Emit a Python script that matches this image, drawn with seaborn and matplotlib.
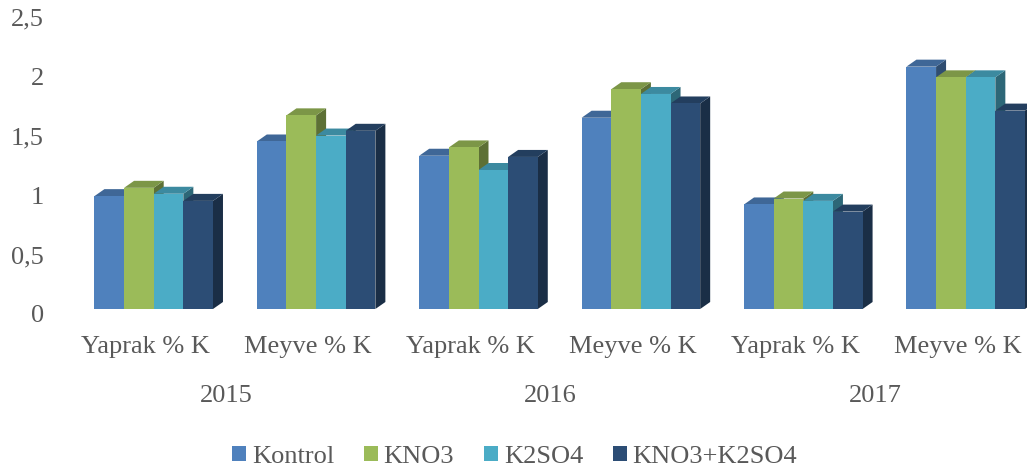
import matplotlib
matplotlib.use("Agg")
import matplotlib.pyplot as plt
from matplotlib.patches import Polygon, Patch
from matplotlib.transforms import ScaledTranslation, blended_transform_factory
import pandas as pd
import seaborn as sns

# Potassium content by year and organ, per fertiliser treatment
group_labels = ["Yaprak % K", "Meyve % K", "Yaprak % K", "Meyve % K", "Yaprak % K", "Meyve % K"]
years = ["2015", "2016", "2017"]
treatments = ["Kontrol", "KNO3", "K2SO4", "KNO3+K2SO4"]
kontrol = [0.95, 1.41, 1.29, 1.61, 0.88, 2.04]
kno3 = [1.02, 1.63, 1.36, 1.85, 0.93, 1.95]
k2so4 = [0.97, 1.46, 1.17, 1.81, 0.91, 1.95]
kno3_k2so4 = [0.91, 1.50, 1.28, 1.73, 0.82, 1.67]
yticks = [0, 0.5, 1, 1.5, 2, 2.5]
ytick_labels = ["0", "0,5", "1", "1,5", "2", "2,5"]

front_colors = ["#4F81BD", "#9BBB59", "#4BACC6", "#2C4D75"]
top_colors = ["#3F6797", "#7C9647", "#3C8AA0", "#233E5E"]
side_colors = ["#2F4D71", "#5D7035", "#2D6777", "#1A2E46"]
TEXT = "#595959"
W, H = 1027, 470

sns.set_style("white")
plt.rcParams["font.family"] = ["Liberation Serif", "DejaVu Serif"]

records = []
for name, values in zip(treatments, [kontrol, kno3, k2so4, kno3_k2so4]):
    for i, v in enumerate(values):
        records.append({"group": i, "treatment": name, "value": v})
df = pd.DataFrame(records)

fig = plt.figure(figsize=(W / 100, H / 100), dpi=100)
ax_left, ax_bottom_px, ax_top_px = 60, 309, 12
ax = fig.add_axes([ax_left / W, (H - ax_bottom_px) / H, (W - ax_left) / W, (ax_bottom_px - ax_top_px) / H])

sns.barplot(data=df, x="group", y="value", hue="treatment", hue_order=treatments,
            palette=front_colors, width=0.73, gap=0, errorbar=None, saturation=1,
            legend=False, ax=ax, zorder=50)

x_unit_px, y_unit_px = 162.4, 118.8
ax.set_xlim((ax_left - 153.7) / x_unit_px, (W - 153.7) / x_unit_px)
ax.set_ylim(0, 2.5)

# Extruded faces behind each bar, stacked left to right so a lower neighbour's
# top face covers the foot of the side face next to it
depth_x, depth_y = 10 / x_unit_px, 7 / y_unit_px
bars = []
for k, container in enumerate(ax.containers):
    for bar in container:
        bars.append((bar.get_x(), k, bar))
bars.sort(key=lambda b: b[0])
for order, (x0, k, bar) in enumerate(bars):
    bar.set_edgecolor("none")
    x1 = x0 + bar.get_width()
    h = bar.get_height()
    side = Polygon([(x1, 0), (x1 + depth_x, depth_y), (x1 + depth_x, h + depth_y), (x1, h)],
                   closed=True, facecolor=side_colors[k], edgecolor="none", zorder=10 + order * 0.5)
    top = Polygon([(x0, h), (x0 + depth_x, h + depth_y), (x1 + depth_x, h + depth_y), (x1, h)],
                  closed=True, facecolor=top_colors[k], edgecolor="none", zorder=10 + order * 0.5)
    ax.add_patch(side)
    ax.add_patch(top)

for s in ax.spines.values():
    s.set_visible(False)
ax.set_xlabel("")
ax.set_ylabel("")
ax.set_yticks(yticks)
ax.set_yticklabels(ytick_labels)
ax.set_xticks(range(len(group_labels)))
ax.set_xticklabels(group_labels)
ax.tick_params(axis="both", length=0, labelsize=19, labelcolor=TEXT)
ax.tick_params(axis="y", pad=11.5)
ax.tick_params(axis="x", pad=19.5)

# Category labels sit slightly left of the bars, value labels slightly below their gridline
for lab in ax.get_xticklabels():
    lab.set_transform(lab.get_transform() + ScaledTranslation(-8 / 100, 0, fig.dpi_scale_trans))
for lab in ax.get_yticklabels():
    lab.set_transform(lab.get_transform() + ScaledTranslation(0, -5 / 100, fig.dpi_scale_trans))

# Year level of the category axis
year_tf = blended_transform_factory(ax.transData, fig.transFigure)
for i, year in enumerate(years):
    x_c = 2 * i + 0.5 - 9 / x_unit_px
    ax.text(x_c, (H - 396) / H, year, transform=year_tf, ha="center", va="center",
            fontsize=19, color=TEXT, clip_on=False)

handles = [Patch(facecolor=c, edgecolor="none", label=n) for c, n in zip(front_colors, treatments)]
fig.legend(handles=handles, loc="center", bbox_to_anchor=(514.5 / W, (H - 457) / H),
           ncol=4, frameon=False, fontsize=19, labelcolor=TEXT, handlelength=0.53,
           handleheight=0.53, handletextpad=0.23, columnspacing=1.12, borderpad=0, borderaxespad=0)

fig.savefig("out.png", dpi=100, facecolor="white")
